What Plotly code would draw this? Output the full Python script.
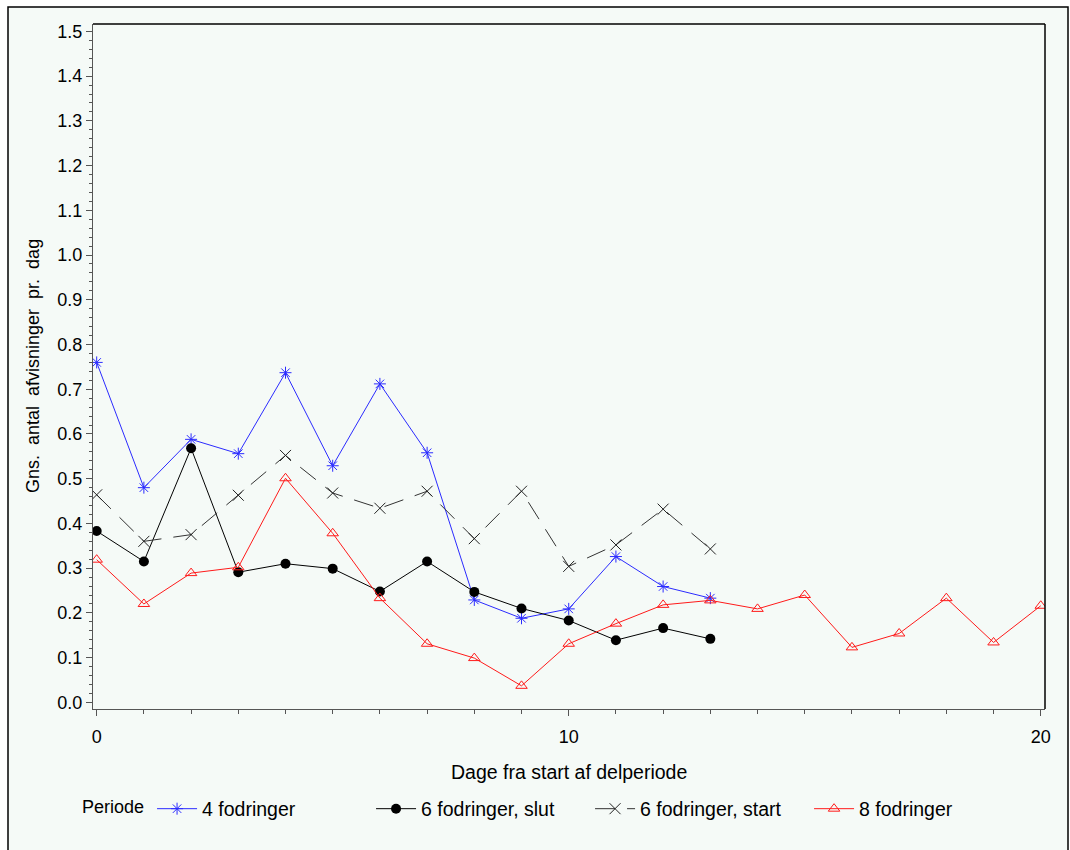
import plotly.graph_objects as go

days = list(range(0, 21))

four_feed = [0.760, 0.480, 0.588, 0.556, 0.737, 0.529, 0.712, 0.558,
             0.229, 0.188, 0.209, 0.326, 0.259, 0.233]
six_end = [0.383, 0.315, 0.568, 0.291, 0.310, 0.299, 0.248, 0.315,
           0.247, 0.210, 0.183, 0.139, 0.166, 0.142]
six_start = [0.464, 0.360, 0.375, 0.463, 0.552, 0.468, 0.434, 0.472,
             0.366, 0.472, 0.304, 0.352, 0.432, 0.343]
eight_feed = [0.319, 0.220, 0.289, 0.302, 0.501, 0.378, 0.233, 0.131,
              0.099, 0.037, 0.131, 0.176, 0.218, 0.228, 0.209, 0.240,
              0.123, 0.154, 0.233, 0.134, 0.216]

names = ["4 fodringer", "6 fodringer, slut", "6 fodringer, start", "8 fodringer"]
x_title = "Dage fra start af delperiode"
y_title = "Gns.\u00a0 antal\u00a0 afvisninger\u00a0 pr.\u00a0 dag"
legend_title = "Periode"
y_ticks = [round(i * 0.1, 1) for i in range(16)]
x_ticks = [0, 10, 20]

W, H = 1070, 850
L, R, T, B = 93, 1045, 24, 709
BG = "#F5FAF7"
FONT = "Liberation Sans, Arial, sans-serif"
FS = 18
FS_BIG = 19.5

fig = go.Figure()
fig.add_trace(go.Scatter(x=days[:len(four_feed)], y=four_feed, name=names[0], mode="lines+markers",
                         line=dict(color="#2B2BFF", width=1),
                         marker=dict(symbol="asterisk-open", size=10, color="#2B2BFF",
                                     line=dict(width=1, color="#2B2BFF"))))
fig.add_trace(go.Scatter(x=days[:len(six_end)], y=six_end, name=names[1], mode="lines+markers",
                         line=dict(color="#000000", width=1),
                         marker=dict(symbol="circle", size=10, color="#000000")))
fig.add_trace(go.Scatter(x=days[:len(six_start)], y=six_start, name=names[2], mode="lines+markers",
                         line=dict(color="#333333", width=1, dash="20px,12px"),
                         marker=dict(symbol="x-thin-open", size=11, color="#222222",
                                     line=dict(width=1, color="#222222"))))
fig.add_trace(go.Scatter(x=days[:len(eight_feed)], y=eight_feed, name=names[3], mode="lines+markers",
                         line=dict(color="#FF1A1A", width=1),
                         marker=dict(symbol="triangle-up-open", size=10, color="#FF1A1A",
                                     line=dict(width=1, color="#FF1A1A"))))

pw, ph = R - L, B - T


def px(x):
    return (x - L) / pw


def py(y):
    return (B - y) / ph


fig.update_layout(
    width=W, height=H,
    margin=dict(l=L, r=W - R, t=T, b=H - B, pad=0),
    paper_bgcolor="white", plot_bgcolor=BG,
    font=dict(family=FONT, size=FS, color="black"),
    showlegend=True,
    legend=dict(orientation="h", x=px(80), y=py(809), xanchor="left", yanchor="middle",
                title=dict(text=legend_title, side="left", font=dict(size=FS)),
                entrywidth=164, entrywidthmode="pixels", bgcolor="rgba(0,0,0,0)",
                font=dict(size=FS_BIG), itemwidth=40, traceorder="normal"),
    xaxis=dict(range=[-0.078, 20.09], tickvals=x_ticks, ticktext=[str(v) for v in x_ticks],
               ticks="outside", ticklen=6, tickcolor="#555", tickwidth=1,
               showline=True, linecolor="#555", linewidth=1, showgrid=False, zeroline=False,
               ticklabelstandoff=5,
               minor=dict(dtick=1, tick0=0, ticks="outside", ticklen=4, tickcolor="#555", showgrid=False),
               tickfont=dict(size=FS)),
    yaxis=dict(range=[-0.0148, 1.5165], tickvals=y_ticks, ticktext=[f"{v:.1f}" for v in y_ticks],
               ticks="outside", ticklen=6, tickcolor="#555", tickwidth=1,
               showline=True, linecolor="#555", linewidth=1, showgrid=False, zeroline=False,
               minor=dict(dtick=0.02, tick0=0, ticks="outside", ticklen=3, tickcolor="#555", showgrid=False),
               tickfont=dict(size=FS)),
    shapes=[
        dict(type="rect", xref="paper", yref="paper", x0=px(8), x1=px(1068), y0=py(7), y1=py(860),
             fillcolor=BG, line=dict(color="black", width=1.5), layer="below"),
        dict(type="line", xref="paper", yref="paper", x0=0, x1=1, y0=1, y1=1,
             line=dict(color="black", width=1.5)),
        dict(type="line", xref="paper", yref="paper", x0=1, x1=1, y0=0, y1=1,
             line=dict(color="black", width=1.5)),
    ],
    annotations=[
        dict(text=x_title, xref="paper", yref="paper", x=px(569), y=py(772),
             xanchor="center", yanchor="middle", showarrow=False, font=dict(size=FS_BIG)),
        dict(text=y_title, xref="paper", yref="paper", x=px(33), y=py(366),
             xanchor="center", yanchor="middle", textangle=-90, showarrow=False, font=dict(size=FS)),
    ],
)

fig.write_html("out.html", config={"displayModeBar": False},
               post_script="document.body.style.margin='0';document.body.style.overflow='hidden';")
